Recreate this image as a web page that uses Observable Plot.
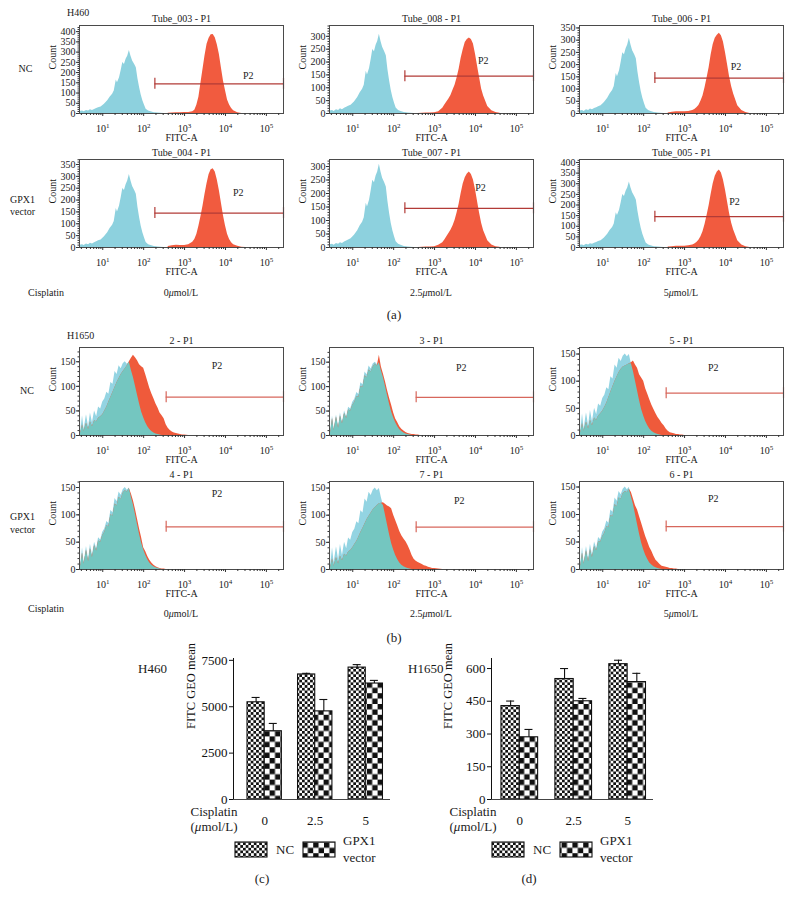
<!DOCTYPE html>
<html><head><meta charset="utf-8">
<script src="https://cdn.jsdelivr.net/npm/d3@7"></script>
<script src="https://cdn.jsdelivr.net/npm/@observablehq/plot@0.6"></script>
<style>
html,body{margin:0;padding:0;background:#fff;}
#root{position:relative;width:792px;height:905px;overflow:hidden;background:#fff;font-family:"Liberation Serif",serif;}
#root svg{overflow:visible;}
</style></head>
<body><div id="root"></div>
<script>
// ---------------- DATA ----------------
// H460 control (unstained) histogram, FITC-A values and counts
const h460Fitc = [2.7, 2.8, 3.2, 3.5, 4.0, 4.5, 5.0, 5.6, 6.3, 7.1, 7.9, 9.1, 11, 13.2, 15.1, 17.4, 19.1, 21.4, 22.9, 25.7, 28.2, 30.9, 33.9, 37.2, 40.7, 44.7, 49, 53.7, 60.3, 66.1, 72.4, 79.4, 87.1, 95.5, 105, 115, 132, 151, 182, 224, 316];
const h460Control = [75, 10, 12, 8, 15, 12, 18, 15, 20, 24, 28, 32, 45, 62, 80, 94, 110, 164, 150, 175, 210, 249, 240, 265, 280, 308, 280, 257, 240, 224, 170, 127, 90, 62, 40, 21, 12, 8, 4, 2, 0];
// H460 stained histograms
const h460RedFitc = [398, 501, 631, 794, 1000, 1259, 1585, 1778, 1995, 2239, 2512, 2818, 3162, 3548, 3981, 4467, 5012, 5623, 6310, 7079, 7943, 8913, 10000, 11220, 12589, 14125, 15849, 19953, 25119, 31623, 39811];
const tube003 = [1, 3, 4, 4, 5, 5, 8, 16, 40, 80, 148, 215, 282, 338, 368, 385, 386, 370, 336, 290, 224, 160, 112, 66, 42, 24, 14, 4, 0, 0, 0];
const tube008 = [0, 1, 2, 2, 3, 7, 20, 33, 45, 56, 70, 90, 110, 138, 172, 215, 248, 276, 288, 293, 288, 270, 231, 185, 140, 95, 68, 27, 11, 4, 1];
const tube006 = [2, 5, 7, 7, 7, 8, 12, 16, 24, 33, 50, 72, 105, 145, 187, 240, 282, 308, 320, 328, 318, 292, 250, 200, 150, 110, 80, 32, 12, 4, 0];
const tube004 = [4, 7, 9, 8, 8, 12, 22, 34, 55, 90, 130, 174, 225, 270, 308, 328, 332, 318, 285, 240, 188, 135, 92, 56, 34, 20, 12, 5, 1, 0, 0];
const tube007 = [0, 1, 2, 2, 3, 8, 18, 28, 40, 52, 64, 80, 100, 128, 160, 200, 235, 258, 272, 280, 270, 250, 215, 170, 128, 90, 62, 25, 9, 3, 1];
const tube005 = [2, 4, 6, 6, 6, 8, 12, 16, 24, 34, 50, 74, 108, 150, 196, 250, 300, 335, 355, 365, 350, 318, 270, 215, 160, 115, 82, 32, 12, 4, 0];

// H1650 histograms on a shared FITC-A grid
const h1650Fitc = [2.7, 2.9, 3.2, 3.5, 4.0, 4.5, 5.0, 5.6, 6.3, 7.1, 7.9, 8.9, 10, 11.2, 12.6, 14.1, 15.8, 17.8, 20, 22.4, 25.1, 28.2, 31.6, 35.5, 39.8, 44.7, 50.1, 56.2, 63.1, 70.8, 79.4, 89.1, 100, 112, 126, 141, 158, 178, 200, 224, 251, 282, 316, 355, 398, 447, 501, 562, 631, 708, 794, 891, 1000, 1259, 1585, 2512];
const h1650Control = [180, 8, 40, 12, 42, 18, 46, 26, 50, 38, 58, 54, 68, 74, 88, 84, 108, 104, 130, 124, 142, 136, 146, 150, 145, 149, 132, 118, 100, 82, 64, 48, 36, 26, 18, 12, 8, 5, 3, 2, 1, 0, 0, 0, 0, 0, 0, 0, 0, 0, 0, 0, 0, 0, 0, 0];
const s2P1 = [20, 5, 22, 8, 25, 12, 28, 18, 30, 28, 35, 38, 42, 50, 58, 68, 78, 88, 98, 108, 116, 124, 130, 136, 142, 150, 157, 163, 158, 152, 144, 140, 137, 124, 110, 96, 85, 75, 64, 56, 46, 40, 34, 22, 15, 10, 7, 5, 4, 3, 2, 1, 1, 0, 0, 0];
const s3P1 = [30, 6, 35, 10, 38, 15, 40, 24, 45, 35, 52, 50, 62, 68, 80, 78, 100, 98, 122, 118, 134, 130, 140, 146, 142, 164, 140, 126, 110, 92, 76, 62, 46, 34, 26, 18, 13, 9, 6, 4, 3, 2, 2, 1, 1, 0, 0, 0, 0, 0, 0, 0, 0, 0, 0, 0];
const s5P1 = [20, 5, 22, 8, 25, 12, 28, 18, 32, 28, 36, 40, 45, 52, 60, 70, 80, 90, 100, 108, 116, 122, 126, 128, 130, 132, 134, 137, 130, 124, 112, 106, 100, 86, 76, 66, 56, 48, 40, 33, 28, 22, 18, 12, 8, 5, 4, 3, 2, 2, 1, 1, 0, 0, 0, 0];
const s4P1 = [25, 6, 30, 10, 35, 14, 38, 22, 44, 34, 52, 50, 62, 68, 80, 78, 100, 98, 120, 116, 132, 128, 140, 144, 142, 148, 138, 126, 110, 92, 74, 58, 40, 33, 24, 17, 12, 8, 5, 3, 2, 1, 1, 0, 0, 0, 0, 0, 0, 0, 0, 0, 0, 0, 0, 0];
const s7P1 = [18, 4, 20, 6, 22, 10, 25, 16, 28, 25, 32, 35, 40, 46, 52, 60, 68, 76, 84, 92, 98, 104, 110, 114, 118, 121, 122, 123, 120, 117, 115, 112, 100, 90, 80, 70, 62, 56, 51, 44, 36, 26, 19, 15, 13, 11, 9, 7, 6, 4, 3, 2, 2, 1, 0, 0];
const s6P1 = [25, 6, 30, 10, 34, 14, 36, 22, 42, 34, 50, 50, 60, 66, 78, 76, 98, 96, 118, 114, 130, 128, 138, 142, 140, 146, 140, 128, 116, 108, 96, 84, 72, 60, 50, 40, 33, 24, 17, 13, 9, 6, 5, 4, 3, 2, 2, 1, 1, 0, 0, 0, 0, 0, 0, 0];

// axis tick values
const fitcDecades = [10, 100, 1000, 10000, 100000];
const fitcMinor = [3, 4, 5, 6, 7, 8, 9, 20, 30, 40, 50, 60, 70, 80, 90, 200, 300, 400, 500, 600, 700, 800, 900, 2000, 3000, 4000, 5000, 6000, 7000, 8000, 9000, 20000, 30000, 40000, 50000, 60000, 70000, 80000, 90000, 200000];
const countTicks = [0, 50, 100, 150, 200, 250, 300, 350, 400];
const fitcDomain = [2.7, 262144];

// bar charts (c) and (d)
const cisplatin = ["0", "2.5", "5"];
const h460NC = [5240, 6740, 7110], h460NCerr = [260, 60, 160];
const h460GPX = [3680, 4750, 6250], h460GPXerr = [420, 640, 170];
const h1650NC = [428, 552, 620], h1650NCerr = [23, 48, 18];
const h1650GPX = [285, 450, 538], h1650GPXerr = [36, 13, 40];
const h460BarTicks = [0, 2500, 5000, 7500];
const h1650BarTicks = [0, 150, 300, 450, 600];

// panel settings
const h460Panels = [
  {title: "Tube_003 - P1", red: tube003, yMax: 430, p2: [36000, 185]},
  {title: "Tube_008 - P1", red: tube008, yMax: 342, p2: [15500, 205]},
  {title: "Tube_006 - P1", red: tube006, yMax: 360, p2: [18000, 193]},
  {title: "Tube_004 - P1", red: tube004, yMax: 371, p2: [20500, 230]},
  {title: "Tube_007 - P1", red: tube007, yMax: 326, p2: [13200, 220]},
  {title: "Tube_005 - P1", red: tube005, yMax: 414, p2: [16700, 214]}
];
const h1650Panels = [
  {title: "2 - P1", red: s2P1, yMax: 179, p2: [6200, 142]},
  {title: "3 - P1", red: s3P1, yMax: 180, p2: [4500, 139]},
  {title: "5 - P1", red: s5P1, yMax: 162, p2: [5000, 124]},
  {title: "4 - P1", red: s4P1, yMax: 161, p2: [6200, 139]},
  {title: "7 - P1", red: s7P1, yMax: 162, p2: [4000, 126]},
  {title: "6 - P1", red: s6P1, yMax: 160, p2: [5000, 128]}
];

// ---------------- LAYOUT ----------------
const root = document.getElementById("root");
const FONT = "Liberation Serif, Times New Roman, serif";
const colLeft = [79, 329, 579];
const panelW = 204, panelH = 88;
const M = {l: 50, r: 8, t: 16, b: 36};

function place(el, left, top) {
  el.style.position = "absolute";
  el.style.left = left + "px";
  el.style.top = top + "px";
  root.appendChild(el);
}

function superscripts(svg) {
  d3.select(svg).selectAll("text").each(function () {
    const m = /^10\^(\d)$/.exec(this.textContent);
    if (m) {
      const t = d3.select(this);
      t.text("");
      t.append("tspan").text("10");
      t.append("tspan").attr("dy", "-0.45em").attr("font-size", "70%").text(m[1]);
    }
  });
}

function hist(cfg, left, top, opt) {
  const ctrl = opt.ctrlX.map((x, i) => ({x, c: opt.ctrl[i]}));
  const red = opt.redX.map((x, i) => ({x, c: cfg.red[i]}));
  const marks = [
    Plot.areaY(ctrl, {x: "x", y: "c", fill: opt.ctrlColor, curve: "linear", clip: true}),
    Plot.areaY(red, {x: "x", y: "c", fill: opt.redColor, curve: "linear", clip: true})
  ];
  if (opt.overlap) {
    const ov = opt.ctrlX.map((x, i) => ({x, c: Math.min(opt.ctrl[i], cfg.red[i])}));
    marks.push(Plot.areaY(ov, {x: "x", y: "c", fill: opt.overlapColor, curve: "linear", clip: true}));
  }
  const half = cfg.yMax * 5.5 / panelH;
  const [gx, gy] = opt.gate;
  marks.push(
    Plot.ruleY([gy], {x1: gx, x2: fitcDomain[1], stroke: opt.gateColor, strokeWidth: 1.2}),
    Plot.ruleX([gx, fitcDomain[1]], {y1: gy - half, y2: gy + half, stroke: opt.gateColor, strokeWidth: 1.2}),
    Plot.text([cfg.p2], {x: p => p[0], y: p => p[1], text: () => "P2", fontSize: 10}),
    Plot.frame({stroke: "#4a4a4a", strokeWidth: 1}),
    Plot.axisX(fitcDecades, {tickSize: 3, tickPadding: 8, label: null, stroke: "#333",
      tickFormat: v => "10^" + Math.round(Math.log10(v)), fontSize: 10}),
    Plot.axisX(fitcMinor, {tickSize: 2, label: null, stroke: "#333", tickFormat: () => ""}),
    Plot.axisY(countTicks.filter(v => v <= cfg.yMax), {tickSize: 3, tickPadding: 1, label: null,
      stroke: "#333", tickFormat: v => String(v), fontSize: 10}),
    Plot.axisY(d3.range(0, cfg.yMax, 10), {tickSize: 1.5, label: null, stroke: "#333", tickFormat: () => ""}),
    Plot.text([cfg.title], {text: s => s, frameAnchor: "top", lineAnchor: "middle", dy: -7, fontSize: 10}),
    Plot.text(["Count"], {text: s => s, frameAnchor: "left", lineAnchor: "middle", rotate: -90, dx: -27, fontSize: 10}),
    Plot.text(["FITC-A"], {text: s => s, frameAnchor: "bottom", lineAnchor: "middle", dy: 24, fontSize: 10})
  );
  const chart = Plot.plot({
    width: panelW + M.l + M.r, height: panelH + M.t + M.b,
    marginLeft: M.l, marginRight: M.r, marginTop: M.t, marginBottom: M.b,
    style: {fontFamily: FONT, fontSize: "10px", background: "transparent", overflow: "visible", color: "#1a1a1a"},
    x: {type: "log", domain: fitcDomain, label: null},
    y: {domain: [0, cfg.yMax], label: null},
    marks
  });
  superscripts(chart);
  place(chart, left - M.l, top - M.t);
}

const h460Opt = {ctrlX: h460Fitc, ctrl: h460Control, redX: h460RedFitc,
  ctrlColor: "#8dd1de", redColor: "#f15b3f", gate: [188, 145], gateColor: "#b23b37", overlap: false};
const h1650Opt = {ctrlX: h1650Fitc, ctrl: h1650Control, redX: h1650Fitc,
  ctrlColor: "#93d4e2", redColor: "#ef5a3b", overlapColor: "#74c6c0", gate: [355, 78], gateColor: "#d7675c", overlap: true};

const h460Top = [25, 159], h1650Top = [346.5, 480.5];
h460Panels.forEach((p, i) => hist(p, colLeft[i % 3], h460Top[Math.floor(i / 3)], h460Opt));
h1650Panels.forEach((p, i) => hist(p, colLeft[i % 3], h1650Top[Math.floor(i / 3)], h1650Opt));

// ---------------- BAR CHARTS ----------------
const PI = 0.32;
function bars(o) {
  const mL = o.axisX - o.left, mR = 10, mT = 8, mB = 30;
  const plotH = 799 - 658;
  const width = o.axisRight - o.left + mR;
  const height = mT + plotH + mB;
  const step = (o.axisRight - o.axisX) / (3 - PI + 2 * o.po);
  const bw = step * (1 - PI);
  const rows = cisplatin.map((c, i) => ({c, nc: o.nc[i], ncHi: o.nc[i] + o.ncErr[i], gpx: o.gpx[i], gpxHi: o.gpx[i] + o.gpxErr[i]}));
  const chart = Plot.plot({
    width, height, marginLeft: mL, marginRight: mR, marginTop: mT, marginBottom: mB,
    style: {fontFamily: FONT, fontSize: "13px", background: "transparent", overflow: "visible", color: "#111"},
    x: {type: "band", domain: cisplatin, paddingInner: PI, paddingOuter: o.po, align: o.align, round: false,
      tickSize: 0, tickPadding: 16, label: null},
    y: {domain: [0, o.yMax], ticks: o.ticks, tickFormat: v => String(v), tickSize: 4, tickPadding: 2, line: true, label: null},
    marks: [
      Plot.barY(rows, {x: "c", y: "nc", fill: "url(#chkFine)", stroke: "#111", strokeWidth: 1.1, insetRight: bw / 2}),
      Plot.barY(rows, {x: "c", y: "gpx", fill: "url(#chkCoarse)", stroke: "#111", strokeWidth: 1.1, insetLeft: bw / 2}),
      Plot.ruleX(rows, {x: "c", y1: "nc", y2: "ncHi", dx: -bw / 4, stroke: "#111", strokeWidth: 1.1}),
      Plot.tickY(rows, {x: "c", y: "ncHi", insetLeft: bw / 4 - 4, insetRight: 3 * bw / 4 - 4, stroke: "#111", strokeWidth: 1.1}),
      Plot.ruleX(rows, {x: "c", y1: "gpx", y2: "gpxHi", dx: bw / 4, stroke: "#111", strokeWidth: 1.1}),
      Plot.tickY(rows, {x: "c", y: "gpxHi", insetLeft: 3 * bw / 4 - 4, insetRight: bw / 4 - 4, stroke: "#111", strokeWidth: 1.1}),
      Plot.ruleY([0], {stroke: "#444", strokeWidth: 1.2}),
      Plot.text(["FITC GEO mean"], {text: s => s, frameAnchor: "left", lineAnchor: "middle", rotate: -90, dx: o.labelDx, fontSize: 12.5})
    ]
  });
  place(chart, o.left, 658 - mT);
}
bars({nc: h460NC, ncErr: h460NCerr, gpx: h460GPX, gpxErr: h460GPXerr, yMax: 7600, ticks: h460BarTicks,
  left: 140, axisX: 233, axisRight: 390, po: 0.213, align: 0.65, labelDx: -43});
bars({nc: h1650NC, ncErr: h1650NCerr, gpx: h1650GPX, gpxErr: h1650GPXerr, yMax: 646, ticks: h1650BarTicks,
  left: 400, axisX: 491, axisRight: 653, po: 0.162, align: 0.57, labelDx: -44});

// ---------------- OVERLAY (patterns, labels, legends) ----------------
const ov = d3.select(root).append("svg")
  .attr("width", 792).attr("height", 905)
  .style("position", "absolute").style("left", "0px").style("top", "0px")
  .style("pointer-events", "none").style("overflow", "visible");
const defs = ov.append("defs");
function checker(id, s) {
  const p = defs.append("pattern").attr("id", id).attr("patternUnits", "userSpaceOnUse")
    .attr("width", 2 * s).attr("height", 2 * s);
  p.append("rect").attr("width", 2 * s).attr("height", 2 * s).attr("fill", "#fff");
  p.append("rect").attr("width", s).attr("height", s).attr("fill", "#111");
  p.append("rect").attr("x", s).attr("y", s).attr("width", s).attr("height", s).attr("fill", "#111");
}
checker("chkFine", 2.7);
checker("chkCoarse", 5.4);

function label(x, y, parts, size, anchor) {
  const t = ov.append("text").attr("x", x).attr("y", y).attr("dy", "0.35em")
    .attr("font-family", FONT).attr("font-size", size).attr("fill", "#1a1a1a")
    .attr("text-anchor", anchor || "start");
  (Array.isArray(parts) ? parts : [parts]).forEach(p => {
    if (typeof p === "string") t.append("tspan").text(p);
    else t.append("tspan").attr("font-style", "italic").text(p.i);
  });
}
const doses = [["0", {i: "μ"}, "mol/L"], ["2.5", {i: "μ"}, "mol/L"], ["5", {i: "μ"}, "mol/L"]];
// (a)
label(67, 12, "H460", 10);
label(25.5, 68, "NC", 10, "middle");
label(10, 199, "GPX1", 10); label(10, 211, "vector", 10);
label(28, 292, "Cisplatin", 10);
doses.forEach((d, i) => label(colLeft[i] + panelW / 2, 292, d, 10, "middle"));
label(394, 314, "(a)", 13, "middle");
// (b)
label(67, 335, "H1650", 10);
label(27, 390, "NC", 10, "middle");
label(10, 516, "GPX1", 10); label(10, 529, "vector", 10);
label(28, 608, "Cisplatin", 10);
doses.forEach((d, i) => label(colLeft[i] + panelW / 2, 613, d, 10, "middle"));
label(394, 637, "(b)", 13, "middle");
// (c) and (d)
label(138, 668, "H460", 13);
label(408, 668, "H1650", 13);
[214, 473].forEach(x => {
  label(x, 811, "Cisplatin", 13, "middle");
  label(x, 826.5, ["(", {i: "μ"}, "mol/L)"], 13, "middle");
});
function legend(x0) {
  ov.append("rect").attr("x", x0).attr("y", 842).attr("width", 32).attr("height", 15)
    .attr("fill", "url(#chkFine)").attr("stroke", "#111").attr("stroke-width", 1.1);
  label(x0 + 41, 849.5, "NC", 13);
  ov.append("rect").attr("x", x0 + 68).attr("y", 842).attr("width", 32).attr("height", 15)
    .attr("fill", "url(#chkCoarse)").attr("stroke", "#111").attr("stroke-width", 1.1);
  label(x0 + 108, 840, "GPX1", 13);
  label(x0 + 108, 857, "vector", 13);
}
legend(235);
legend(492);
label(262, 878, "(c)", 13, "middle");
label(529, 878, "(d)", 13, "middle");
</script></body></html>
